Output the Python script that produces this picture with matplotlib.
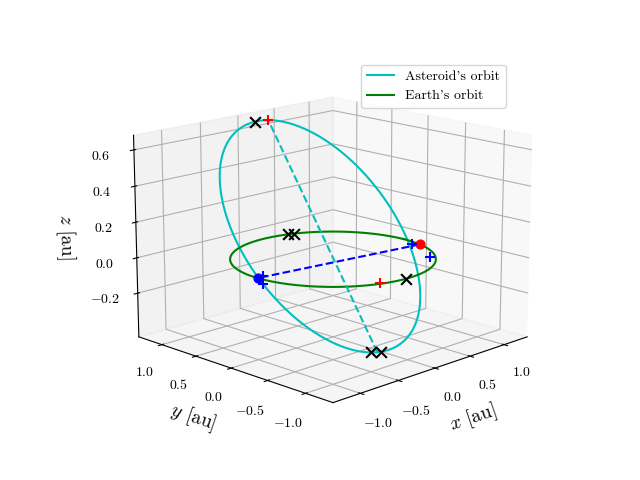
import numpy as np
import matplotlib
matplotlib.use("Agg")
import matplotlib.pyplot as plt

plt.rcParams["font.family"] = "serif"
plt.rcParams["font.serif"] = ["cmr10"]
plt.rcParams["mathtext.fontset"] = "cm"
plt.rcParams["axes.formatter.use_mathtext"] = True
plt.rcParams["axes.unicode_minus"] = True

# orbital elements of the asteroid (semi-latus rectum, eccentricity, inclination,
# node longitude, angle of aphelion from the node inside the orbit plane)
p_ast = 1.02
e_ast = 0.21
inc_deg = 31.0
node_deg = 0.0
aph_deg = 82.0

# asteroid positions given as true anomaly (deg), black crosses
ast_nu_deg = [172.0, 5.0, -3.0]
# Earth positions (deg on the unit circle): red dot, blue dot
earth_red_deg = -15.0
earth_blue_deg = 180.0
# extra markers in the ecliptic (x, y, z)
black_x = [(0.3, 0.95, 0.0), (0.37, 0.93, 0.0), (-0.03, -1.0, 0.0)]
red_plus = [(-0.31, -0.93, 0.0)]
blue_plus = [(-1.1, -0.18, 0.0), (-0.92, 0.01, 0.0), (0.93, -0.18, 0.0), (0.68, -0.66, 0.0)]

inc = np.radians(inc_deg)
om = np.radians(node_deg)
phi = np.radians(aph_deg)
n = np.array([np.cos(om), np.sin(om), 0.0])
m = np.cos(inc) * np.array([-np.sin(om), np.cos(om), 0.0]) + np.array([0, 0, np.sin(inc)])
u = np.cos(phi) * n + np.sin(phi) * m      # aphelion direction
w = -np.sin(phi) * n + np.cos(phi) * m


def orbit_pos(nu):
    nu = np.atleast_1d(nu)
    r = p_ast / (1 + e_ast * np.cos(nu))
    return (r * np.cos(nu))[:, None] * (-u) + (r * np.sin(nu))[:, None] * w


ast = orbit_pos(np.linspace(0, 2 * np.pi, 400))
th = np.linspace(0, 2 * np.pi, 400)

fig = plt.figure(figsize=(6.4, 4.8))
ax = fig.add_subplot(projection="3d")
ax.set_box_aspect(None, zoom=1.17)
ax.plot(ast[:, 0], ast[:, 1], ast[:, 2], color="c", label="Asteroid's orbit")
ax.plot(np.cos(th), np.sin(th), 0 * th, color="g", label="Earth's orbit")

peri = orbit_pos(0.0)[0]
aph = orbit_pos(np.pi)[0]
ax.plot([peri[0], aph[0]], [peri[1], aph[1]], [peri[2], aph[2]], "c--")
er = np.radians(earth_red_deg)
eb = np.radians(earth_blue_deg)
ax.plot([np.cos(er), np.cos(eb)], [np.sin(er), np.sin(eb)], [0, 0], "b--")
ax.scatter([np.cos(er)], [np.sin(er)], [0], color="r", s=40, depthshade=False)
ax.scatter([np.cos(eb)], [np.sin(eb)], [0], color="b", s=40, depthshade=False)
ax.scatter([aph[0]], [aph[1]], [aph[2]], color="r", marker="+", s=60, depthshade=False)

bx = np.vstack([orbit_pos(np.radians(ast_nu_deg)), np.array(black_x)])
ax.scatter(bx[:, 0], bx[:, 1], bx[:, 2], color="k", marker="x", s=60, depthshade=False)
for pts, c in [(red_plus, "r"), (blue_plus, "b")]:
    a = np.array(pts)
    ax.scatter(a[:, 0], a[:, 1], a[:, 2], color=c, marker="+", s=60, depthshade=False)

ax.set_xlim(-1.35, 1.35)
ax.set_ylim(-1.35, 1.35)
ax.set_zlim(-0.45, 0.68)
ax.set_xticks([-1.0, -0.5, 0.0, 0.5, 1.0])
ax.set_yticks([-1.0, -0.5, 0.0, 0.5, 1.0])
ax.set_zticks([-0.2, 0.0, 0.2, 0.4, 0.6])
ax.set_xlabel("$x$ [au]", fontsize=14)
ax.set_ylabel("$y$ [au]", fontsize=14)
ax.set_zlabel("$z$ [au]", fontsize=14)
ax.view_init(elev=15, azim=-135)
ax.legend(loc="upper right")
fig.savefig("out.png", dpi=100)
